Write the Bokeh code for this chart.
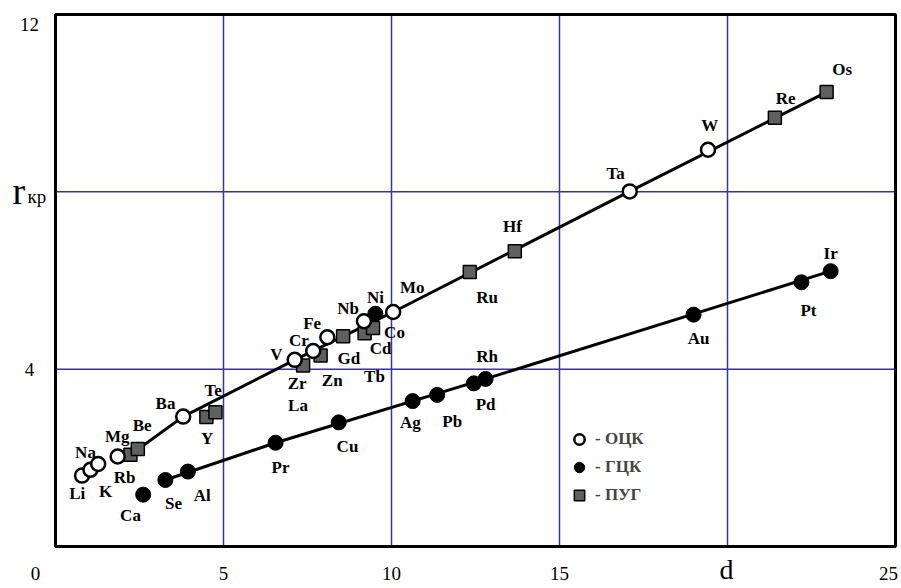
from bokeh.plotting import figure
from bokeh.models import Legend, LegendItem
from bokeh.core.properties import value
from bokeh.embed import file_html
from bokeh.resources import INLINE

# ОЦК (bcc) - open circles
bcc_names = ["Li", "Na", "K", "Rb", "Ba", "V", "Cr", "Fe", "Nb", "Mo", "Ta", "W"]
bcc_x = [0.79, 1.04, 1.27, 1.85, 3.80, 7.12, 7.67, 8.09, 9.18, 10.05, 17.09, 19.42]
bcc_y = [1.60, 1.73, 1.86, 2.03, 2.93, 4.21, 4.41, 4.72, 5.08, 5.29, 8.01, 8.95]

# ГЦК (fcc) - filled circles
fcc_names = ["Ca", "Se", "Al", "Pr", "Cu", "Ni", "Ag", "Pb", "Pd", "Rh", "Au", "Pt", "Ir"]
fcc_x = [2.61, 3.27, 3.94, 6.55, 8.43, 9.52, 10.63, 11.36, 12.45, 12.80, 18.99, 22.20, 23.07]
fcc_y = [1.17, 1.50, 1.69, 2.34, 2.80, 5.25, 3.28, 3.42, 3.68, 3.78, 5.23, 5.96, 6.21]

# ПУГ (hcp) - squares
hcp_names = ["Mg", "Be", "Y", "Te", "Zr", "Zn", "Gd", "Tb", "Cd", "Ru", "Hf", "Re", "Os"]
hcp_x = [2.23, 2.45, 4.49, 4.76, 7.37, 7.89, 8.56, 9.20, 9.45, 12.33, 13.67, 21.41, 22.95]
hcp_y = [2.07, 2.20, 2.92, 3.03, 4.08, 4.31, 4.74, 4.81, 4.93, 6.19, 6.66, 9.67, 10.25]

# trend lines
upper_x = [2.23, 3.80, 7.12, 10.05, 17.09, 22.95]
upper_y = [2.07, 2.93, 4.21, 5.29, 8.01, 10.25]
lower_x = [3.27, 6.55, 12.80, 23.07]
lower_y = [1.50, 2.34, 3.78, 6.21]

# element name labels (text anchor positions in data units)
label_names = ["Li", "Na", "K", "Rb", "Mg", "Be", "Ba", "Te", "Y", "Ca", "Se", "Al", "Pr",
               "V", "Cr", "Fe", "Nb", "Ni", "Mo", "Co", "Cd", "Gd", "Tb", "Zn", "Zr", "La",
               "Ru", "Hf", "Rh", "Pd", "Pb", "Ag", "Cu", "Au", "Pt", "Ir", "Ta", "W", "Re", "Os"]
label_x = [0.646, 0.893, 1.488, 2.054, 1.836, 2.580, 3.274, 4.693, 4.515, 2.232, 3.51, 4.366, 6.696,
           6.577, 7.241, 7.640, 8.711, 9.524, 10.616, 10.089, 9.673, 8.729, 9.494, 8.235, 7.193, 7.217,
           12.848, 13.60, 12.848, 12.80, 11.806, 10.565, 8.69, 19.14, 22.41, 23.07, 16.67, 19.47, 21.73, 23.41]
label_y = [1.19, 2.13, 1.24, 1.56, 2.48, 2.73, 3.22, 3.52, 2.43, 0.70, 0.98, 1.15, 1.78,
           4.32, 4.65, 5.02, 5.36, 5.62, 5.85, 4.83, 4.46, 4.23, 3.83, 3.74, 3.67, 3.18,
           5.62, 7.22, 4.29, 3.20, 2.83, 2.80, 2.26, 4.69, 5.32, 6.60, 8.41, 9.50, 10.10, 10.75]

# axes / ticks
x_min, x_max = 0, 25
y_min, y_max = 0, 12
grid_x = [5, 10, 15, 20]
grid_y = [4, 8]
xtick_vals = [0, 5, 10, 15, 25]
xtick_text = ["0", "5", "10", "15", "25"]
ytick_vals = [12, 4]
ytick_text = ["12", "4"]
x_title = "d"
y_title_main, y_title_sub = "r", "кр"
legend_text = ["- ОЦК", "- ГЦК", "- ПУГ"]

SERIF = "Liberation Serif"
GRID = "#35359c"

# canvas layout (pixels)
W, H = 898, 586
FL, FR, FT, FB = 55, 895, 14, 546          # box edges in pixels
sx = (FR - FL) / (x_max - x_min)
sy = (FB - FT) / (y_max - y_min)
xr = (x_min - FL / sx, x_min + (W - FL) / sx)
yr = (y_min - (H - FB) / sy, y_max + FT / sy)


def dx(px):   # pixel offset -> data units along x
    return px / sx


def dy(px):   # pixel offset -> data units along y
    return px / sy


p = figure(width=W, height=H, x_range=xr, y_range=yr,
           output_backend="svg", toolbar_location=None,
           x_axis_location=None, y_axis_location=None, min_border=0)
p.grid.visible = False
p.background_fill_color = "white"
p.border_fill_color = "white"
p.outline_line_alpha = 0

# grid lines inside the box
p.segment(x0=grid_x, y0=[y_min] * len(grid_x), x1=grid_x, y1=[y_max] * len(grid_x),
          line_color=GRID, line_width=1.5)
p.segment(x0=[x_min] * len(grid_y), y0=grid_y, x1=[x_max] * len(grid_y), y1=grid_y,
          line_color=GRID, line_width=1.5)

# plot box
p.quad(left=[x_min], right=[x_max], bottom=[y_min], top=[y_max],
       fill_alpha=0, line_color="black", line_width=3)

p.line(upper_x, upper_y, line_color="black", line_width=3)
p.line(lower_x, lower_y, line_color="black", line_width=3)

r_hcp = p.scatter(hcp_x, hcp_y, marker="square", size=13, fill_color="#606060",
                  line_color="black", line_width=1.5)
r_fcc = p.scatter(fcc_x, fcc_y, marker="circle", size=15, fill_color="black",
                  line_color="black", line_width=1)
r_bcc = p.scatter(bcc_x, bcc_y, marker="circle", size=14, fill_color="white",
                  line_color="black", line_width=2.5)

p.text(x=label_x, y=label_y, text=label_names, text_font=value(SERIF),
       text_font_style="bold", text_font_size="17px", text_align="center",
       text_baseline="middle", text_color="black")

# tick labels
xt_x = []
for v in xtick_vals:
    if v == x_min:
        xt_x.append(v - dx(20))
    elif v == x_max:
        xt_x.append(v - dx(7))
    else:
        xt_x.append(v)
p.text(x=xt_x, y=[y_min - dy(27)] * len(xtick_vals), text=xtick_text,
       text_font=value(SERIF), text_font_size="19px",
       text_align="center", text_baseline="middle", text_color="black")

yt_y = [v - dy(10) if v == y_max else v for v in ytick_vals]
p.text(x=[x_min - dx(26)] * len(ytick_vals), y=yt_y, text=ytick_text,
       text_font=value(SERIF), text_font_size="19px",
       text_align="center", text_baseline="middle", text_color="black")

# axis titles
p.text(x=[20 - dx(1)], y=[y_min - dy(23)], text=[x_title],
       text_font=value(SERIF), text_font_size="28px",
       text_align="center", text_baseline="middle", text_color="black")
p.text(x=[x_min - dx(43)], y=[8 + dy(1)], text=[y_title_main],
       text_font=value(SERIF), text_font_size="38px",
       text_align="left", text_baseline="middle", text_color="black")
p.text(x=[x_min - dx(28)], y=[8 - dy(5)], text=[y_title_sub],
       text_font=value(SERIF), text_font_size="19px",
       text_align="left", text_baseline="middle", text_color="black")

legend = Legend(items=[LegendItem(label=legend_text[0], renderers=[r_bcc]),
                       LegendItem(label=legend_text[1], renderers=[r_fcc]),
                       LegendItem(label=legend_text[2], renderers=[r_hcp])],
                location=(566, H - 508), orientation="vertical",
                glyph_width=26, glyph_height=26, label_height=26, spacing=2,
                padding=0, margin=0, label_standoff=3,
                label_text_font=SERIF, label_text_font_style="bold",
                label_text_font_size="17px",
                border_line_alpha=0, background_fill_alpha=0)
p.add_layout(legend)

open("out.html", "w").write(file_html(p, INLINE))
